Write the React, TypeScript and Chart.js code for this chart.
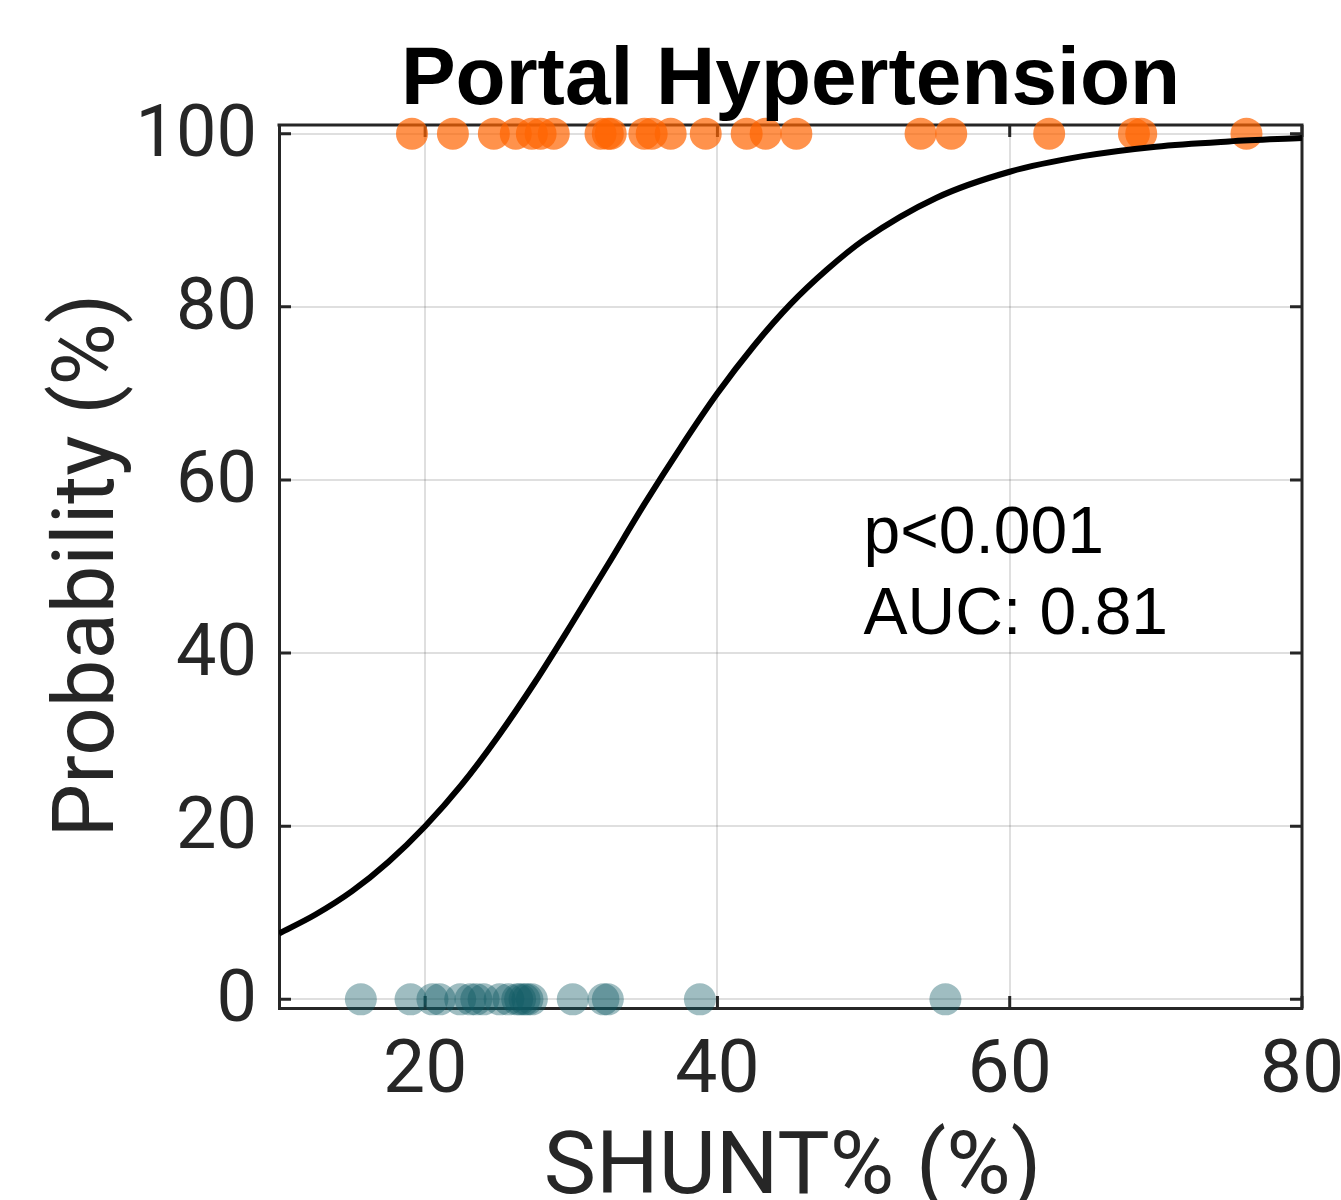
import React, { useEffect, useRef } from "react";
import { Chart, registerables } from "chart.js";

Chart.register(...registerables);

const TITLE = "Portal Hypertension";
const X_LABEL = "SHUNT% (%)";
const Y_LABEL = "Probability (%)";
const ANNOTATION = ["p<0.001", "AUC: 0.81"];

const X_TICKS = [20, 40, 60, 80];
const Y_TICKS = [0, 20, 40, 60, 80, 100];

// Patients with portal hypertension (outcome = 100 %)
const POSITIVE_SHUNT = [
  19.1, 21.9, 24.7, 26.2, 27.3, 27.9, 28.8, 32.0, 32.5, 32.7, 35.0, 35.5,
  36.8, 39.2, 42.0, 43.3, 45.4, 53.9, 56.0, 62.7, 68.5, 69.0, 76.2,
];
// Patients without portal hypertension (outcome = 0 %)
const NEGATIVE_SHUNT = [
  15.6, 19.0, 20.5, 21.0, 22.4, 23.1, 23.5, 24.0, 25.1, 25.7, 26.3, 26.5,
  26.8, 27.0, 27.3, 30.1, 32.2, 32.5, 38.8, 55.6,
];

// Fitted probability curve
const CURVE_X = [10, 12.5, 15, 17.5, 20, 22.5, 25, 27.5, 30, 32.5, 35, 37.5, 40, 42.5, 45, 47.5, 50, 55, 60, 65, 70, 75, 80];
const CURVE_Y = [7.6, 9.8, 12.5, 15.9, 20.0, 24.8, 30.4, 36.6, 43.3, 50.2, 57.2, 63.8, 70.0, 75.5, 80.3, 84.3, 87.7, 92.6, 95.6, 97.4, 98.5, 99.1, 99.5];

const AXIS_COLOR = "#262626";

export default function App() {
  const canvasRef = useRef<HTMLCanvasElement | null>(null);

  useEffect(() => {
    const canvas = canvasRef.current;
    if (!canvas) return;

    const framePlugin = {
      id: "frame",
      beforeDatasetsDraw(chart: any) {
        const { ctx, chartArea } = chart;
        const { left, right, top, bottom } = chartArea;
        const xs = chart.scales.x;
        const ys = chart.scales.y;
        ctx.save();
        ctx.strokeStyle = AXIS_COLOR;
        ctx.lineWidth = 3;
        ctx.beginPath();
        ctx.moveTo(left - 1.5, top);
        ctx.lineTo(right + 1.5, top);
        ctx.moveTo(right, top);
        ctx.lineTo(right, bottom + 1.5);
        ctx.stroke();
        // inner tick marks
        const tl = 12;
        ctx.beginPath();
        X_TICKS.forEach((v) => {
          const px = xs.getPixelForValue(v);
          ctx.moveTo(px, bottom);
          ctx.lineTo(px, bottom - tl);
          ctx.moveTo(px, top);
          ctx.lineTo(px, top + tl);
        });
        Y_TICKS.forEach((v) => {
          const py = ys.getPixelForValue(v);
          ctx.moveTo(left, py);
          ctx.lineTo(left + tl, py);
          ctx.moveTo(right, py);
          ctx.lineTo(right - tl, py);
        });
        ctx.stroke();
        ctx.restore();
      },
      afterDraw(chart: any) {
        const { ctx, chartArea } = chart;
        const xs = chart.scales.x;
        ctx.save();
        // title
        ctx.fillStyle = "#000000";
        ctx.font = "bold 82px 'Liberation Sans', Arial, sans-serif";
        ctx.textAlign = "center";
        ctx.textBaseline = "alphabetic";
        ctx.fillText(TITLE, (chartArea.left + chartArea.right) / 2, 104);
        // x label
        ctx.fillStyle = AXIS_COLOR;
        ctx.font = "88px Roboto, sans-serif";
        ctx.fillText(X_LABEL, (chartArea.left + chartArea.right) / 2 + 2, 1193);
        // y label
        ctx.save();
        ctx.font = "85px Roboto, sans-serif";
        ctx.translate(113, (chartArea.top + chartArea.bottom) / 2 - 1);
        ctx.rotate(-Math.PI / 2);
        ctx.fillText(Y_LABEL, 0, 0);
        ctx.restore();
        // annotation
        ctx.fillStyle = "#000000";
        ctx.font = "66px 'Liberation Sans', Arial, sans-serif";
        ctx.textAlign = "left";
        const ax = xs.getPixelForValue(50);
        ctx.fillText(ANNOTATION[0], ax, 553);
        ctx.fillText(ANNOTATION[1], ax, 634);
        ctx.restore();
      },
    };

    const chart = new Chart(canvas, {
      type: "scatter",
      data: {
        datasets: [
          {
            type: "line",
            label: "fit",
            data: CURVE_X.map((x, i) => ({ x, y: CURVE_Y[i] })),
            borderColor: "#000000",
            borderWidth: 6,
            pointRadius: 0,
            cubicInterpolationMode: "monotone",
            fill: false,
            order: 0,
          } as any,
          {
            label: "PH",
            data: POSITIVE_SHUNT.map((x) => ({ x, y: 100 })),
            backgroundColor: "rgba(255,100,0,0.7)",
            borderWidth: 0,
            pointRadius: 16,
            clip: false,
            order: 1,
          } as any,
          {
            label: "no PH",
            data: NEGATIVE_SHUNT.map((x) => ({ x, y: 0 })),
            backgroundColor: "rgba(15,90,100,0.4)",
            borderWidth: 0,
            pointRadius: 16,
            clip: false,
            order: 2,
          } as any,
        ],
      },
      options: {
        animation: false,
        responsive: true,
        maintainAspectRatio: false,
        events: [],
        layout: { padding: { top: 125, right: 39, left: 0, bottom: 0 } },
        plugins: {
          legend: { display: false },
          tooltip: { enabled: false },
          title: { display: false },
        },
        scales: {
          x: {
            type: "linear",
            min: 10,
            max: 80,
            afterBuildTicks: (scale: any) => {
              scale.ticks = X_TICKS.map((v) => ({ value: v }));
            },
            afterFit: (scale: any) => {
              scale.height = 192;
              scale.paddingLeft = 0;
              scale.paddingRight = 0;
            },
            grid: { color: "rgba(38,38,38,0.15)", lineWidth: 2, drawTicks: false },
            border: { display: true, color: AXIS_COLOR, width: 3 },
            ticks: {
              color: AXIS_COLOR,
              font: { family: "Roboto", size: 75 },
              padding: 20,
              maxRotation: 0,
              autoSkip: false,
            },
          },
          y: {
            type: "linear",
            min: -1,
            max: 101,
            afterBuildTicks: (scale: any) => {
              scale.ticks = Y_TICKS.map((v) => ({ value: v }));
            },
            afterFit: (scale: any) => {
              scale.width = 279;
              scale.paddingTop = 0;
              scale.paddingBottom = 0;
            },
            grid: { color: "rgba(38,38,38,0.15)", lineWidth: 2, drawTicks: false },
            border: { display: true, color: AXIS_COLOR, width: 3 },
            ticks: {
              color: AXIS_COLOR,
              font: { family: "Roboto", size: 72 },
              padding: 22,
              labelOffset: 4,
              autoSkip: false,
            },
          },
        },
      } as any,
      plugins: [framePlugin],
    });

    return () => chart.destroy();
  }, []);

  return (
    <div style={{ position: "fixed", left: 0, top: 0, width: 1341, height: 1200, background: "#ffffff" }}>
      <canvas ref={canvasRef} />
    </div>
  );
}
